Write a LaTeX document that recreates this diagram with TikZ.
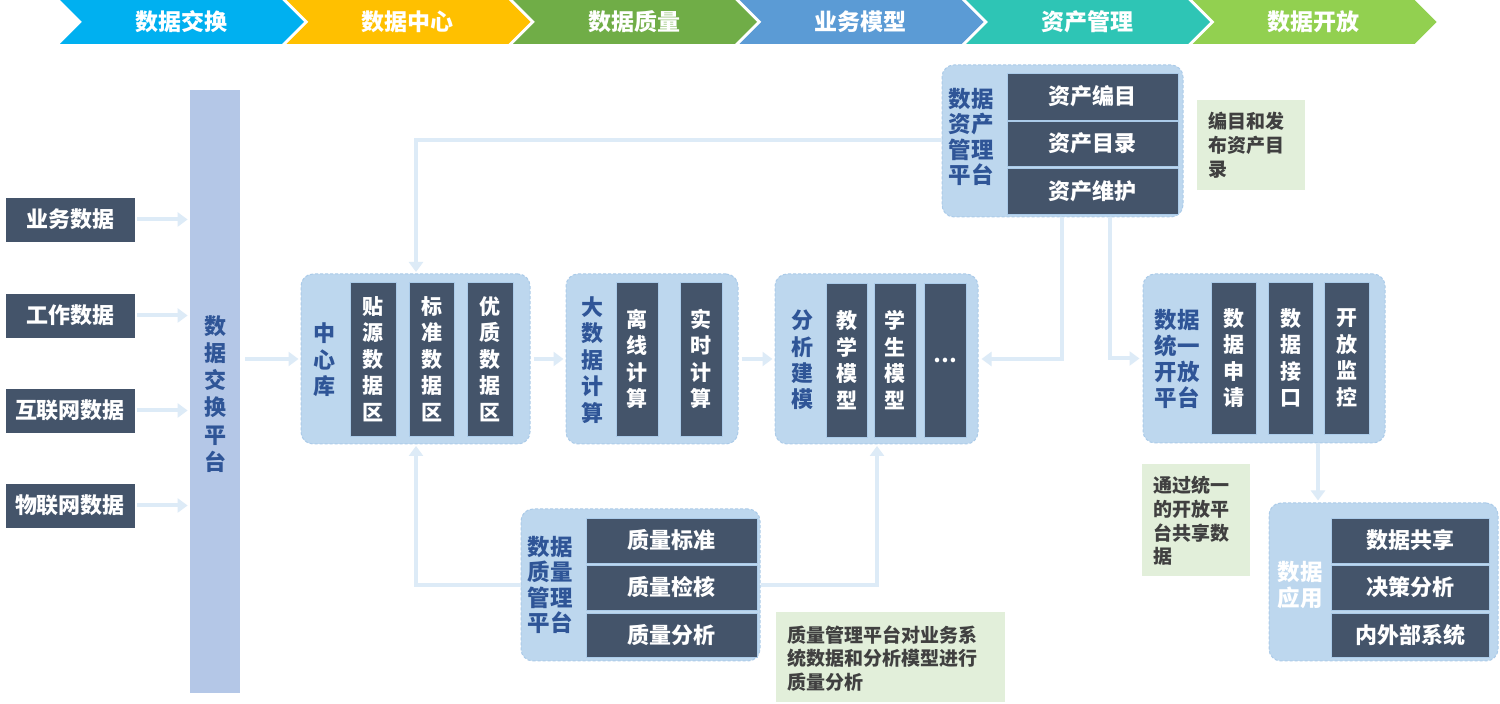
\documentclass[tikz,border=0pt]{standalone}
\usepackage{fontspec}
\newfontfamily\cjk{Noto Sans CJK SC}
\usetikzlibrary{arrows.meta}
\definecolor{dkc}{HTML}{44546A}
\definecolor{grpc}{HTML}{BDD7EE}
\definecolor{grpb}{HTML}{ABCBE9}
\definecolor{lblc}{HTML}{2F5597}
\definecolor{lnc}{HTML}{DDEBF7}
\definecolor{xpc}{HTML}{B4C7E7}
\definecolor{notec}{HTML}{E2EFDA}
\definecolor{notet}{HTML}{404040}
\definecolor{chA}{HTML}{00B0F0}
\definecolor{chB}{HTML}{FFC000}
\definecolor{chC}{HTML}{70AD47}
\definecolor{chD}{HTML}{5B9BD5}
\definecolor{chE}{HTML}{2EC5B5}
\definecolor{chF}{HTML}{92D050}
\newcommand\bx[7]{\node[#1, inner sep=0pt, anchor=center,
  minimum width={(#5-#3)*0.5pt}, minimum height={(#6-#4)*0.5pt}]
  (#2) at ({(#3+#5)/2},{(#4+#6)/2}) {#7};}
\begin{document}
\begin{tikzpicture}[x=0.5pt,y=-0.5pt,
  dkbox/.style={fill=dkc, draw=grpb, line width=0.4pt, text=white, align=center,
    font={\cjk\bfseries\fontsize{10.5}{13.25}\selectfont}},
  rowbox/.style={dkbox, font={\cjk\bfseries\fontsize{11}{13}\selectfont}},
  srcbox/.style={dkbox, draw=white, font={\cjk\bfseries\fontsize{11}{13}\selectfont}},
  grp/.style={fill=grpc, draw=grpb, dash pattern=on 1.5pt off 1pt, line width=0.5pt, rounded corners=6pt},
  lbl/.style={text=lblc, align=center, inner sep=0pt, font={\cjk\bfseries\fontsize{11}{13.2}\selectfont}},
  lbltwo/.style={lbl, font={\cjk\bfseries\fontsize{11.25}{12.8}\selectfont}},
  conn/.style={draw=lnc, line width=2pt, -{Triangle[width=7pt,length=5pt]}},
  notebox/.style={fill=notec, draw=none},
  notetxt/.style={text=notet, align=left, inner sep=0pt, anchor=north west,
    font={\cjk\bfseries\fontsize{9.5}{11.8}\selectfont}},
  bann/.style={text=white, font={\cjk\bfseries\fontsize{11.5}{13}\selectfont}}]
\useasboundingbox[fill=white] (0,0) rectangle (1500,704);

% banner
\foreach \c/\t [count=\i from 0, evaluate=\i as \x using 60+226.5*\i] in
  {chA/数据交换, chB/数据中心, chC/数据质量, chD/业务模型, chE/资产管理, chF/数据开放}{
  \fill[\c] (\x,0) -- ++(222,0) -- ++(22,22) -- ++(-22,22) -- ++(-222,0) -- ++(22,-22) -- cycle;
  \node[bann] (ban\i) at (\x+121,22) {\t};
}

% sources
\bx{srcbox}{s1}{5}{197}{135}{242}{业务数据}
\bx{srcbox}{s2}{5}{293}{135}{338}{工作数据}
\bx{srcbox}{s3}{5}{388}{135}{433}{互联网数据}
\bx{srcbox}{s4}{5}{483}{135}{528}{物联网数据}

% exchange platform
\bx{fill=xpc}{xp}{190}{90}{240}{693}{}
\node[lbl, font={\cjk\bfseries\fontsize{11}{13.6}\selectfont}] (xpl) at (215,394) {数\\据\\交\\换\\平\\台};

% center repository
\bx{grp}{zx}{301}{274}{530}{444}{}
\node[lbl, font={\cjk\bfseries\fontsize{11}{13.25}\selectfont}] (zxl) at (324,360) {中\\心\\库};
\bx{dkbox}{z1}{350}{282}{396}{436}{贴\\源\\数\\据\\区}
\bx{dkbox}{z2}{409}{282}{454}{436}{标\\准\\数\\据\\区}
\bx{dkbox}{z3}{467}{282}{513}{436}{优\\质\\数\\据\\区}

% big data computing
\bx{grp}{dsj}{566}{274}{738}{444}{}
\node[lbl] (dsjl) at (592,360) {大\\数\\据\\计\\算};
\bx{dkbox}{d1}{616}{282}{658}{436}{离\\线\\计\\算}
\bx{dkbox}{d2}{680}{282}{722}{436}{实\\时\\计\\算}

% analysis modelling
\bx{grp}{fx}{775}{274}{978}{444}{}
\node[lbl] (fxl) at (802,360) {分\\析\\建\\模};
\bx{dkbox}{f1}{826}{283}{867}{437}{教\\学\\模\\型}
\bx{dkbox}{f2}{874}{283}{916}{437}{学\\生\\模\\型}
\bx{dkbox}{f3}{924}{283}{966}{437}{…}

% asset platform
\bx{grp}{zc}{942}{65}{1183}{217}{}
\node[lbltwo] (zcl) at (971,137) {数据\\资产\\管理\\平台};
\bx{rowbox}{r1}{1007}{73}{1178}{120}{资产编目}
\bx{rowbox}{r2}{1007}{121}{1178}{166}{资产目录}
\bx{rowbox}{r3}{1007}{168}{1178}{214}{资产维护}
\bx{notebox}{n1}{1197}{100}{1305}{190}{}
\node[notetxt] (n1t) at (1208,112) {编目和发\\布资产目\\录};

% open platform
\bx{grp}{kf}{1143}{274}{1385}{443}{}
\node[lbltwo, font={\cjk\bfseries\fontsize{11.25}{13.1}\selectfont}] (kfl) at (1177,359) {数据\\统一\\开放\\平台};
\bx{dkbox}{k1}{1211}{282}{1256}{434}{数\\据\\申\\请}
\bx{dkbox}{k2}{1268}{282}{1313}{434}{数\\据\\接\\口}
\bx{dkbox}{k3}{1324}{282}{1369}{434}{开\\放\\监\\控}
\bx{notebox}{n3}{1142}{464}{1250}{576}{}
\node[notetxt] (n3t) at (1153,476) {通过统一\\的开放平\\台共享数\\据};

% quality platform
\bx{grp}{zl}{521}{509}{760}{661}{}
\node[lbltwo] (zll) at (550,585) {数据\\质量\\管理\\平台};
\bx{rowbox}{q1}{586}{518}{757}{563}{质量标准}
\bx{rowbox}{q2}{586}{565}{757}{610}{质量检核}
\bx{rowbox}{q3}{586}{613}{757}{657}{质量分析}
\bx{notebox}{n2}{776}{612}{1005}{702}{}
\node[notetxt] (n2t) at (787,625) {质量管理平台对业务系\\统数据和分析模型进行\\质量分析};

% data application
\bx{grp}{app}{1269}{503}{1498}{661}{}
\node[lbltwo, text=white] (appl) at (1300,585) {数据\\应用};
\bx{rowbox}{p1}{1331}{518}{1489}{563}{数据共享}
\bx{rowbox}{p2}{1331}{565}{1489}{610}{决策分析}
\bx{rowbox}{p3}{1331}{613}{1489}{657}{内外部系统}

% connectors
\foreach \s in {s1,s2,s3,s4}
  \draw[conn, shorten <=1pt, shorten >=1pt] (\s.east) -- (\s.east -| xp.west);
\draw[conn, shorten <=2.5pt, shorten >=1pt] (xp.east |- zx.west) -- (zx.west);
\draw[conn, shorten <=1.5pt, shorten >=1pt] (zx.east) -- (dsj.west);
\draw[conn, shorten <=1.5pt, shorten >=1pt] (dsj.east) -- (fx.west);

\coordinate (a1) at (1062,217);
\coordinate (a2) at (1110,217);
\coordinate (a3) at (942,140);
\coordinate (zt) at (416,274);
\coordinate (zb) at (416,444);
\coordinate (fb) at (877,444);
\coordinate (ko) at (1318,443);
\draw[conn, shorten >=1.5pt] (a1) |- (fx.east);
\draw[conn, shorten >=1.5pt] (a2) |- (kf.west);
\draw[conn, shorten >=1pt] (a3) -| (zt);
\draw[conn, shorten >=1pt] (zl.west) -| (zb);
\draw[conn, shorten >=1pt] (zl.east) -| (fb);
\draw[conn, shorten >=1pt] (ko) -- (ko |- app.north);
\end{tikzpicture}
\end{document}
